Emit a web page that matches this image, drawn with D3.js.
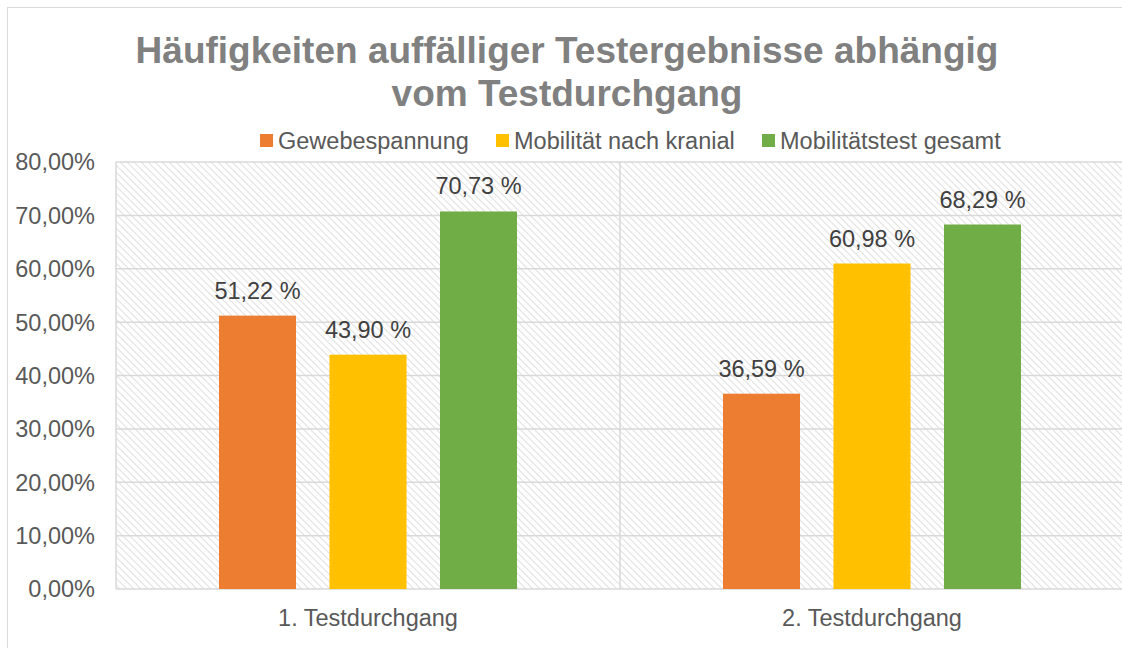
<!DOCTYPE html>
<html>
<head>
<meta charset="utf-8">
<script src="https://cdn.jsdelivr.net/npm/d3@7"></script>
<style>
	body { margin: 0; background: #fff; }
	svg { display: block; font-family: "Liberation Sans", Arial, sans-serif; }
</style>
</head>
<body>
<svg id="chart" width="1122" height="648"></svg>
<script>
// chart data
const categories = ['1. Testdurchgang', '2. Testdurchgang']
const series = ['Gewebespannung', 'Mobilität nach kranial', 'Mobilitätstest gesamt']
const colors = ['#ED7D31', '#FFC000', '#70AD47']
const gewebespannung = [51.22, 36.59]
const mobilitaetKranial = [43.90, 60.98]
const mobilitaetGesamt = [70.73, 68.29]
const yTicks = [0, 10, 20, 30, 40, 50, 60, 70, 80]

const values = [gewebespannung, mobilitaetKranial, mobilitaetGesamt]

const svg = d3.select('#chart')
const plot = { left: 116, right: 1124, top: 162, bottom: 589 }

// outer chart border
svg.append('rect')
	.attr('x', 7.5).attr('y', 7.5)
	.attr('width', 1130).attr('height', 660)
	.attr('fill', '#fff')
	.attr('stroke', '#d9d9d9')
	.attr('stroke-width', 1)

// hatch pattern for plot area
const defs = svg.append('defs')
const pat = defs.append('pattern')
	.attr('id', 'hatch')
	.attr('patternUnits', 'userSpaceOnUse')
	.attr('width', 7).attr('height', 7)
pat.append('rect').attr('width', 7).attr('height', 7).attr('fill', '#fff')
pat.append('path')
	.attr('d', 'M-1,-1 L8,8 M-8,-1 L1,8 M6,-1 L15,8')
	.attr('stroke', '#e2e2e2')
	.attr('stroke-width', 1.2)

svg.append('rect')
	.attr('x', plot.left).attr('y', plot.top)
	.attr('width', plot.right - plot.left)
	.attr('height', plot.bottom - plot.top)
	.attr('fill', 'url(#hatch)')

// scales
const y = d3.scaleLinear().domain([0, 80]).range([plot.bottom, plot.top])
const x0 = d3.scaleBand().domain(categories).range([plot.left, plot.right]).padding(0)
const x1 = d3.scaleBand().domain(series).range([0, x0.bandwidth()])
	.paddingInner(0.303).paddingOuter(0.932)

// horizontal gridlines
svg.append('g').selectAll('line')
	.data(yTicks)
	.enter().append('line')
	.attr('x1', plot.left).attr('x2', plot.right)
	.attr('y1', d => y(d)).attr('y2', d => y(d))
	.attr('stroke', '#d9d9d9')
	.attr('stroke-width', 1.5)

// vertical category gridlines
const vLines = [plot.left].concat(categories.map(c => x0(c) + x0.bandwidth()))
svg.append('g').selectAll('line')
	.data(vLines)
	.enter().append('line')
	.attr('x1', d => d).attr('x2', d => d)
	.attr('y1', plot.top).attr('y2', plot.bottom)
	.attr('stroke', '#d9d9d9')
	.attr('stroke-width', 1.5)

// y axis labels
svg.append('g').selectAll('text')
	.data(yTicks)
	.enter().append('text')
	.attr('x', 95)
	.attr('y', d => y(d))
	.attr('dy', '0.36em')
	.attr('text-anchor', 'end')
	.attr('font-size', 23.5)
	.attr('fill', '#595959')
	.text(d => d3.format('.2f')(d).replace('.', ',') + '%')

// x axis labels
svg.append('g').selectAll('text')
	.data(categories)
	.enter().append('text')
	.attr('x', d => x0(d) + x0.bandwidth() / 2)
	.attr('y', 626)
	.attr('text-anchor', 'middle')
	.attr('font-size', 23.5)
	.attr('fill', '#595959')
	.text(d => d)

// bars
const barData = []
series.forEach((s, si) => {
	categories.forEach((c, ci) => {
		barData.push({ series: s, cat: c, value: values[si][ci], color: colors[si] })
	})
})

svg.append('g').selectAll('rect')
	.data(barData)
	.enter().append('rect')
	.attr('x', d => x0(d.cat) + x1(d.series))
	.attr('y', d => y(d.value))
	.attr('width', x1.bandwidth())
	.attr('height', d => y(0) - y(d.value))
	.attr('fill', d => d.color)

// bar labels
svg.append('g').selectAll('text')
	.data(barData)
	.enter().append('text')
	.attr('x', d => x0(d.cat) + x1(d.series) + x1.bandwidth() / 2)
	.attr('y', d => y(d.value) - 17)
	.attr('text-anchor', 'middle')
	.attr('font-size', 23.5)
	.attr('fill', '#404040')
	.text(d => d3.format('.2f')(d.value).replace('.', ',') + ' %')

// title
const title = svg.append('text')
	.attr('text-anchor', 'middle')
	.attr('font-size', 37)
	.attr('font-weight', 'bold')
	.attr('fill', '#808080')
title.append('tspan').attr('x', 567).attr('y', 63).text('Häufigkeiten auffälliger Testergebnisse abhängig')
title.append('tspan').attr('x', 567).attr('y', 106).text('vom Testdurchgang')

// legend
const legendX = [260, 496, 762]
const legend = svg.append('g').selectAll('g')
	.data(series)
	.enter().append('g')
	.attr('transform', (d, i) => `translate(${legendX[i]},134)`)
legend.append('rect')
	.attr('width', 13).attr('height', 13)
	.attr('fill', (d, i) => colors[i])
legend.append('text')
	.attr('x', 18)
	.attr('y', 15)
	.attr('font-size', 23.5)
	.attr('fill', '#595959')
	.text(d => d)
</script>
</body>
</html>
